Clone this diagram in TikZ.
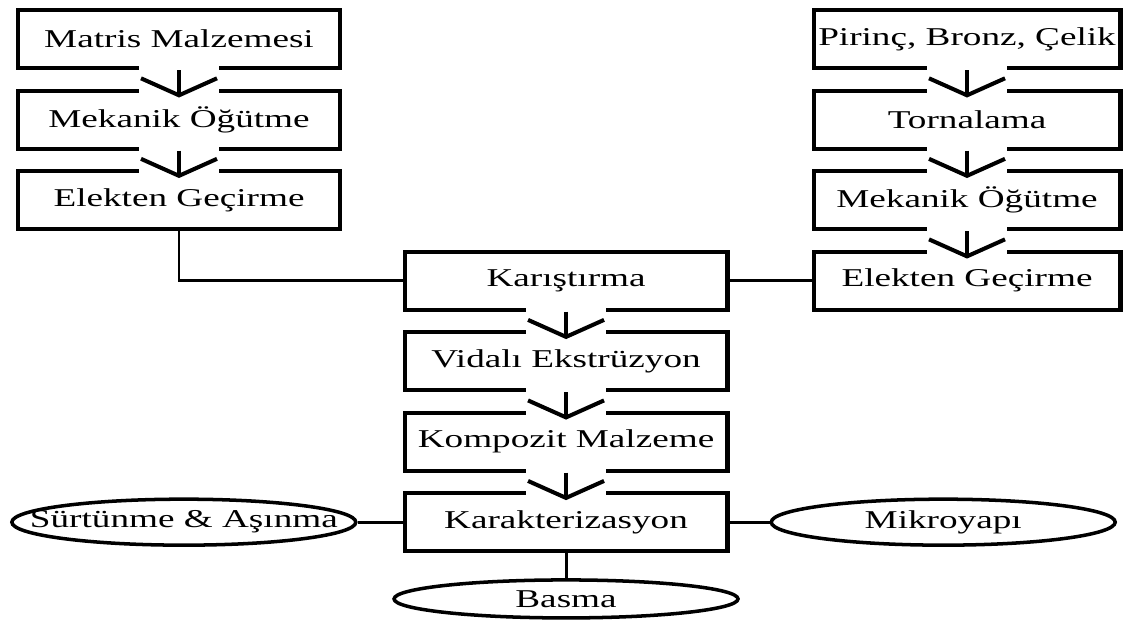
\documentclass[tikz,border=0pt]{standalone}
\usepackage{fontspec}
\setmainfont{Liberation Serif}[FakeStretch=1.45]
\usetikzlibrary{shapes.geometric, arrows.meta, positioning}

\begin{document}
\begin{tikzpicture}[
        x=0.02cm, y=-0.02cm,
        node distance=0.37cm,
        font=\fontsize{14.6}{17}\selectfont,
        box/.style={draw, line width=2.3pt, minimum width=6.46cm, minimum height=1.16cm, inner sep=0pt},
        rbox/.style={box, minimum width=6.14cm},
        oval/.style={draw, ellipse, line width=2pt, inner sep=0pt, minimum width=6.88cm, minimum height=0.92cm},
        arrow/.style={-{Straight Barb[length=0.34cm, width=1.52cm]}, line width=2.3pt,
            preaction={draw=white, line width=1.6cm, -, shorten <=-0.09cm}},
        line/.style={line width=1.7pt}
        ]
        \useasboundingbox (0,0) rectangle (1135,623);

        % left column
        \node[box] (matris) at (179,39) {Matris Malzemesi};
        \node[box] (ogutL) [below=of matris] {Mekanik Öğütme};
        \node[box] (elekL) [below=of ogutL] {Elekten Geçirme};

        % right column
        \node[rbox] (pirinc) at (967,39) {Pirinç, Bronz, Çelik};
        \node[rbox] (torna) [below=of pirinc] {Tornalama};
        \node[rbox] (ogutR) [below=of torna] {Mekanik Öğütme};
        \node[rbox] (elekR) [below=of ogutR] {Elekten Geçirme};

        % center column
        \node[box] (karis) [left=1.64cm of elekR] {Karıştırma};
        \node[box] (vida) [below=of karis] {Vidalı Ekstrüzyon};
        \node[box] (kompozit) [below=of vida] {Kompozit Malzeme};
        \node[box] (karakter) [below=of kompozit] {Karakterizasyon};

        % tests
        \node[oval] (surtunme) [left=0.9cm of karakter] {\makebox[0pt]{Sürtünme \& Aşınma}};
        \node[oval] (mikro) [right=0.8cm of karakter] {\makebox[0pt]{Mikroyapı}};
        \node[oval, minimum height=0.76cm] (basma) [below=0.5cm of karakter] {\makebox[0pt]{Basma}};

        \draw[arrow] (matris.south) -- ([yshift=-0.18cm]ogutL.north);
        \draw[arrow] (ogutL.south) -- ([yshift=-0.18cm]elekL.north);
        \draw[arrow] (pirinc.south) -- ([yshift=-0.18cm]torna.north);
        \draw[arrow] (torna.south) -- ([yshift=-0.18cm]ogutR.north);
        \draw[arrow] (ogutR.south) -- ([yshift=-0.18cm]elekR.north);
        \draw[arrow] (karis.south) -- ([yshift=-0.18cm]vida.north);
        \draw[arrow] (vida.south) -- ([yshift=-0.18cm]kompozit.north);
        \draw[arrow] (kompozit.south) -- ([yshift=-0.18cm]karakter.north);

        \draw[line] (elekL.south) |- (karis.west);
        \draw[line] (elekR.west) -- (karis.east);
        \draw[line] (karakter.west) -- (surtunme.east);
        \draw[line] (karakter.east) -- (mikro.west);
        \draw[line] (karakter.south) -- (basma.north);
    \end{tikzpicture}
\end{document}
